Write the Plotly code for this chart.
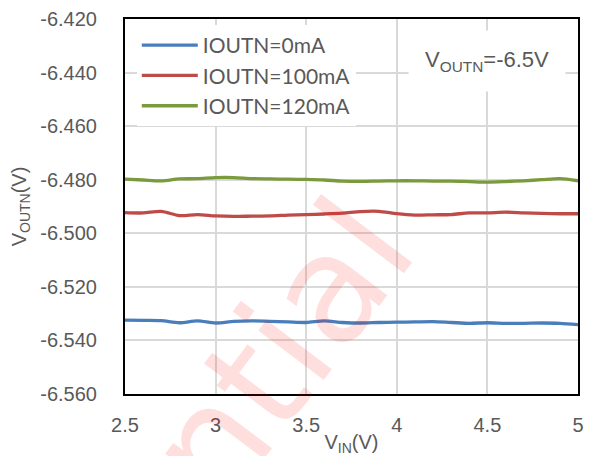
import plotly.graph_objects as go

# Input voltage sweep (V)
vin = [2.5, 2.6, 2.7, 2.8, 2.9, 3.0, 3.1, 3.2, 3.3, 3.4, 3.5, 3.6, 3.7,
       3.8, 3.9, 4.0, 4.1, 4.2, 4.3, 4.4, 4.5, 4.6, 4.7, 4.8, 4.9, 5.0]

# Negative output voltage (V) at each load current
vout_0ma = [-6.5324, -6.5325, -6.5326, -6.5334, -6.5327, -6.5335, -6.5329,
            -6.5327, -6.5329, -6.5331, -6.5333, -6.5327, -6.5333, -6.5335,
            -6.5333, -6.5332, -6.5331, -6.5330, -6.5333, -6.5336, -6.5334,
            -6.5336, -6.5336, -6.5335, -6.5336, -6.5341]
vout_100ma = [-6.4923, -6.4924, -6.4918, -6.4934, -6.4930, -6.4935, -6.4937,
              -6.4936, -6.4935, -6.4932, -6.4930, -6.4928, -6.4925, -6.4919,
              -6.4918, -6.4927, -6.4932, -6.4931, -6.4930, -6.4924, -6.4924,
              -6.4921, -6.4924, -6.4926, -6.4927, -6.4927]
vout_120ma = [-6.4798, -6.4801, -6.4804, -6.4797, -6.4796, -6.4792, -6.4792,
              -6.4796, -6.4797, -6.4798, -6.4799, -6.4801, -6.4805, -6.4806,
              -6.4805, -6.4804, -6.4804, -6.4805, -6.4805, -6.4807, -6.4809,
              -6.4807, -6.4804, -6.4800, -6.4796, -6.4804]

series_names = ["IOUTN=0mA", "IOUTN=100mA", "IOUTN=120mA"]
series_colors = ["#4a7ebb", "#be4b48", "#7a9a3d"]

x_ticks = [2.5, 3, 3.5, 4, 4.5, 5]
x_tick_text = ["2.5", "3", "3.5", "4", "4.5", "5"]
y_ticks = [-6.56, -6.54, -6.52, -6.50, -6.48, -6.46, -6.44, -6.42]
y_tick_text = ["-6.560", "-6.540", "-6.520", "-6.500", "-6.480", "-6.460",
               "-6.440", "-6.420"]

grey = "#595959"
tick_font = dict(family="Liberation Sans, Arial", size=20, color=grey)

fig = go.Figure()
for name, ys, color in zip(series_names, [vout_0ma, vout_100ma, vout_120ma], series_colors):
    fig.add_trace(go.Scatter(
        x=vin, y=ys, name=name, mode="lines",
        line=dict(color=color, width=3.3, shape="spline", smoothing=0.8),
    ))

fig.update_layout(
    width=590, height=456,
    margin=dict(l=125, r=12, t=19, b=62, autoexpand=False),
    paper_bgcolor="white", plot_bgcolor="white",
    showlegend=True,
    legend=dict(
        x=0.026, y=0.984, xanchor="left", yanchor="top",
        bgcolor="white", borderwidth=0,
        font=dict(family="Lato, Carlito, sans-serif", size=21, color=grey),
        itemwidth=56, tracegroupgap=0,
    ),
    xaxis=dict(
        range=[2.5, 5], tickvals=x_ticks, ticktext=x_tick_text,
        showgrid=True, gridcolor="#d9d9d9", gridwidth=1.8,
        showline=True, linecolor="black", linewidth=2, mirror=True,
        ticks="", tickfont=tick_font, ticklabelstandoff=12,
        zeroline=False, automargin=False,
        title=dict(text="V<sub>IN</sub>(V)", font=tick_font, standoff=0),
    ),
    yaxis=dict(
        range=[-6.56, -6.42], tickvals=y_ticks, ticktext=y_tick_text,
        showgrid=True, gridcolor="#d9d9d9", gridwidth=1.8,
        showline=True, linecolor="black", linewidth=2, mirror=True,
        ticks="", tickfont=tick_font, ticklabelstandoff=22,
        zeroline=False, automargin=False,
        title=dict(text="V<sub>OUTN</sub>(V)", font=tick_font, standoff=8),
    ),
)

# Operating condition note
fig.add_annotation(
    xref="paper", yref="paper", x=(487 - 125) / 453, y=(394 - 61) / 375,
    xanchor="center", yanchor="middle", showarrow=False,
    text="V<sub>OUTN</sub>=-6.5V",
    font=dict(family="Liberation Sans, Arial", size=22, color=grey),
    bgcolor="white", borderpad=16,
)

# Document watermark
fig.add_annotation(
    xref="paper", yref="paper", x=-0.038, y=-0.496,
    xanchor="center", yanchor="middle", showarrow=False,
    text="Confidential", textangle=-53,
    font=dict(family="DejaVu Sans", size=150, color="rgba(255,0,0,0.13)"),
)

fig.write_html("out.html")
